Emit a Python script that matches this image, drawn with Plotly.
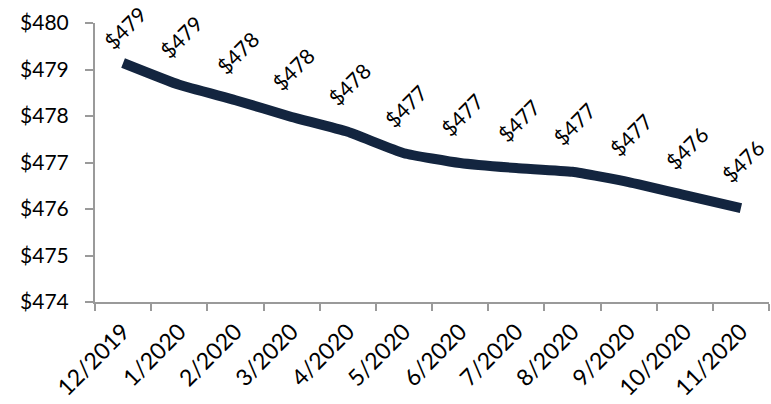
import plotly.graph_objects as go

months = ["12/2019", "1/2020", "2/2020", "3/2020", "4/2020", "5/2020",
          "6/2020", "7/2020", "8/2020", "9/2020", "10/2020", "11/2020"]
values = [479.14, 478.67, 478.34, 477.98, 477.66, 477.20,
          476.99, 476.88, 476.80, 476.58, 476.30, 476.02]
labels = ["$479", "$479", "$478", "$478", "$478", "$477",
          "$477", "$477", "$477", "$477", "$476", "$476"]
y_ticks = [474, 475, 476, 477, 478, 479, 480]

FONT = "Lato"
LINE = "#13253f"
AXIS = "#9a9a9a"

W, H = 771, 404
ML, MR, MT, MB = 95, 2, 23, 102
YMIN, YMAX = 474, 480
plot_h = H - MT - MB

fig = go.Figure()
fig.add_trace(go.Scatter(
    x=months, y=values, mode="lines",
    line=dict(color=LINE, width=10, shape="spline", smoothing=0.4),
    hoverinfo="skip", showlegend=False,
))

for m, v, t in zip(months, values, labels):
    # distance (px) from point to top of plot area; keep label inside chart
    dist_top = (YMAX - v) / (YMAX - YMIN) * plot_h
    shift = min(48, dist_top - 5)
    fig.add_annotation(
        x=m, y=v, text=t, showarrow=False, textangle=-45,
        xshift=2, yshift=shift,
        font=dict(family=FONT, size=21, color="#000000"),
    )

fig.update_layout(
    template="none",
    width=W, height=H,
    margin=dict(l=ML, r=MR, t=MT, b=MB, autoexpand=False),
    paper_bgcolor="white", plot_bgcolor="white",
    font=dict(family=FONT, size=21, color="#000000"),
)
fig.update_xaxes(
    type="category", range=[-0.5, 11.5], tickangle=-45, automargin=False,
    tickson="boundaries", ticks="outside", ticklen=7, tickwidth=2,
    tickcolor=AXIS, showline=True, linecolor=AXIS, linewidth=2,
    showgrid=False, zeroline=False, ticklabelstandoff=5,
    tickfont=dict(family=FONT, size=23, color="#000000"),
)
fig.update_yaxes(
    range=[YMIN, YMAX], tickvals=y_ticks, automargin=False,
    ticktext=["$" + str(v) for v in y_ticks],
    ticks="outside", ticklen=8, tickwidth=2, tickcolor=AXIS,
    showline=True, linecolor=AXIS, linewidth=2,
    showgrid=False, zeroline=False, ticklabelstandoff=12,
    tickfont=dict(family=FONT, size=21, color="#000000"),
)

fig.write_html(
    "out.html",
    config={"displayModeBar": False, "staticPlot": True},
    post_script="document.body.style.margin='0';document.body.style.overflow='hidden';",
)
